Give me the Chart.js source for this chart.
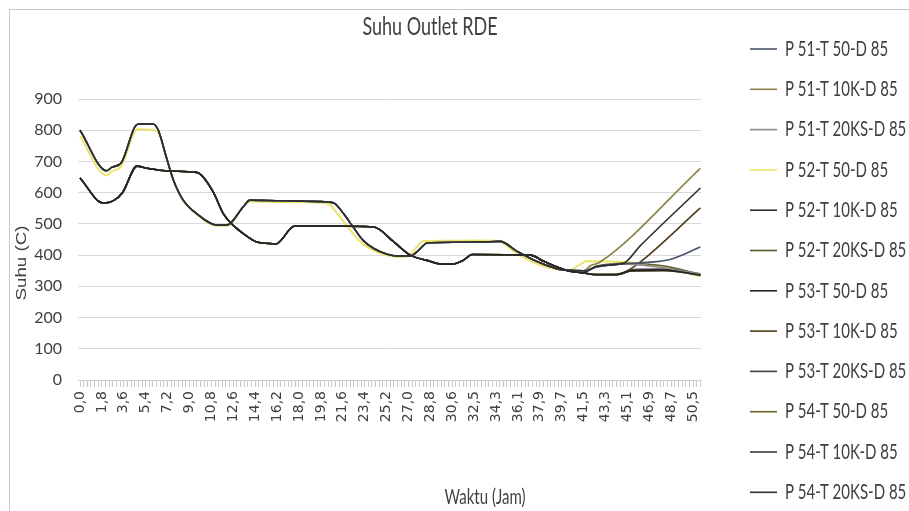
<!DOCTYPE html>
<html>
<head>
<meta charset="utf-8">
<script src="https://cdn.jsdelivr.net/npm/chart.js@4.4.1/dist/chart.umd.min.js"></script>
<style>
  html, body { margin: 0; padding: 0; background: #fff; }
  #wrap { width: 909px; height: 511px; }
</style>
</head>
<body>
<div id="wrap"><canvas id="chart" width="909" height="511"></canvas></div>
<script>
// Series names (legend order)
const seriesNames = [
    'P 51-T 50-D 85', 'P 51-T 10K-D 85', 'P 51-T 20KS-D 85',
    'P 52-T 50-D 85', 'P 52-T 10K-D 85', 'P 52-T 20KS-D 85',
    'P 53-T 50-D 85', 'P 53-T 10K-D 85', 'P 53-T 20KS-D 85',
    'P 54-T 50-D 85', 'P 54-T 10K-D 85', 'P 54-T 20KS-D 85'
];

// X axis tick labels (Jam)
const xTickLabels = ['0,0', '1,8', '3,6', '5,4', '7,2', '9,0', '10,8', '12,6', '14,4', '16,2',
    '18,0', '19,8', '21,6', '23,4', '25,2', '27,0', '28,8', '30,6', '32,5', '34,3',
    '36,1', '37,9', '39,7', '41,5', '43,3', '45,1', '46,9', '48,7', '50,5'];

// Kurva atas (mulai 800 C), dipakai bersama oleh beberapa seri
const upperTimes = [0, 2.2, 2.6, 3.4, 4.5, 4.8, 6.0, 6.45, 7.1, 7.7, 8.5, 9.6, 11.3, 12.1, 13.45, 14.0,
    16.6, 20.45, 21.0, 21.7, 22.5, 23.3, 24.2, 25.3, 26.4, 27.2, 27.9, 28.6, 32.9, 34.6, 36.0, 37.6,
    39.3, 40.4, 41.5];
const upperTemps = [800, 670, 681, 696, 810, 820, 820, 800, 715, 640, 576, 533, 496, 496, 555, 576,
    574, 570, 565, 533, 490, 448, 421, 403, 397, 397, 416, 439, 442, 444, 412, 380,
    356, 351, 350];

// Kurva bawah (mulai 650 C)
const lowerTimes = [0, 1.9, 2.7, 3.5, 4.7, 5.5, 7.4, 9.6, 10.0, 11.0, 11.8, 12.6, 13.45, 14.55, 15.65,
    16.1, 17.7, 20.3, 24.2, 25.8, 27.2, 28.5, 29.8, 30.6, 31.6, 32.3, 37.1, 38.2, 40.1, 41.5, 42.3];
const lowerTemps = [647, 567, 573, 600, 685, 678, 669, 665, 656, 600, 533, 496, 469, 442, 437,
    435, 493, 493, 490, 444, 400, 384, 371, 371, 384, 402, 400, 380, 351, 343, 338];

// P 52-T 50 (kuning) sedikit berbeda dari kurva atas
const yellowTimes = [0, 2.2, 2.6, 3.4, 4.5, 4.8, 6.1, 6.45, 7.1, 7.7, 8.5, 9.6, 11.3, 12.1, 13.45, 14.0,
    16.6, 20.0, 20.6, 21.3, 22.1, 23.0, 24.0, 25.2, 26.3, 27.0, 27.6, 28.3, 32.9, 34.4, 35.8, 37.4,
    39.0, 40.3, 41.2, 41.7, 45.3, 47.8, 51.1];
const yellowTemps = [780, 655, 668, 685, 795, 803, 800, 792, 712, 638, 574, 531, 494, 494, 553, 572,
    570, 568, 560, 528, 488, 446, 418, 400, 394, 396, 420, 445, 447, 446, 410, 375,
    356, 352, 370, 380, 376, 363, 333];

// Ujung kurva (setelah ~41,5 jam), [waktu, suhu]
const tailP51T50 = [[42.6, 362], [44.8, 372], [46.5, 376], [48.6, 386], [51.1, 426]];
const tailP51T10K = [[42.0, 365], [42.8, 377], [51.1, 678]];
const tailP51T20KS = [[42.6, 362], [44.8, 372], [47.6, 362], [51.1, 340]];
const tailP52T10K = [[41.7, 348], [42.6, 365], [44.8, 375], [46.1, 428], [51.1, 615]];
const tailP52T20KS = [[42.6, 365], [44.8, 374], [48.0, 366], [51.1, 338]];
const tailP53T50 = [[44.2, 338], [45.4, 350], [48.0, 352], [51.1, 336]];
const tailP53T10K = [[44.2, 338], [45.0, 348], [45.9, 370], [51.1, 551]];
const tailP53T20KS = [[44.2, 337], [45.6, 354], [48.4, 355], [51.1, 340]];
const tailP54T50 = [[44.0, 338], [45.4, 349], [48.2, 350], [51.1, 335]];
const tailP54T10K = [[44.2, 338], [45.6, 351], [48.5, 351], [51.1, 338]];
const tailP54T20KS = [[44.2, 337], [45.5, 350], [48.3, 352], [51.1, 337]];

// Warna tiap seri
const seriesColors = ['#44546a', '#8f8048', '#8c8c8c', '#ece46a', '#2a2d31', '#5e5b30',
    '#262626', '#4d3b1a', '#3d3d3d', '#6f6424', '#333a40', '#303030'];
// Urutan gambar (kecil = di atas)
const seriesOrder = [1, 1, 1, 5, 0, 1, 0, 1, 1, 1, 1, 1];

function toPoints(times, temps) {
    return times.map((t, i) => ({ x: t, y: temps[i] }));
}
function withTail(times, temps, tail) {
    return toPoints(times, temps).concat(tail.map(p => ({ x: p[0], y: p[1] })));
}

const seriesData = [
    withTail(upperTimes, upperTemps, tailP51T50),
    withTail(upperTimes, upperTemps, tailP51T10K),
    withTail(upperTimes, upperTemps, tailP51T20KS),
    toPoints(yellowTimes, yellowTemps),
    withTail(upperTimes, upperTemps, tailP52T10K),
    withTail(upperTimes, upperTemps, tailP52T20KS),
    withTail(lowerTimes, lowerTemps, tailP53T50),
    withTail(lowerTimes, lowerTemps, tailP53T10K),
    withTail(lowerTimes, lowerTemps, tailP53T20KS),
    withTail(lowerTimes, lowerTemps, tailP54T50),
    withTail(lowerTimes, lowerTemps, tailP54T10K),
    withTail(lowerTimes, lowerTemps, tailP54T20KS)
];

const datasets = seriesNames.map((name, i) => ({
    label: name,
    data: seriesData[i],
    borderColor: seriesColors[i],
    backgroundColor: seriesColors[i],
    borderWidth: i === 3 ? 2 : 1.6,
    pointRadius: 0,
    cubicInterpolationMode: 'monotone',
    order: seriesOrder[i]
}));

// Tulisan yang sedikit "ditarik" secara vertikal seperti gambar aslinya
function stretchedText(ctx, text, x, y, font, sx, sy, color, rotate) {
    ctx.save();
    ctx.translate(x, y);
    if (rotate) ctx.rotate(rotate);
    ctx.scale(sx, sy);
    ctx.font = font;
    ctx.fillStyle = color;
    ctx.textAlign = 'center';
    ctx.textBaseline = 'middle';
    ctx.fillText(text, 0, 0);
    ctx.restore();
}

const decorPlugin = {
    id: 'decor',
    afterDraw(chart) {
        const ctx = chart.ctx;
        // bingkai grafik
        ctx.save();
        ctx.strokeStyle = '#c9c9c9';
        ctx.lineWidth = 1;
        ctx.beginPath();
        ctx.moveTo(9.5, 511);
        ctx.lineTo(9.5, 9.5);
        ctx.lineTo(909, 9.5);
        ctx.stroke();
        ctx.restore();

        stretchedText(ctx, 'Suhu Outlet RDE', 430, 27, '18px Lato', 1, 1.35, '#404040');
        stretchedText(ctx, 'Waktu (Jam)', 485, 497, '15px Lato', 1, 1.4, '#404040');
        stretchedText(ctx, 'Suhu (C)', 22, 263, '15px "Liberation Sans"', 1.25, 1, '#404040', -Math.PI / 2);

        // legenda
        chart.data.datasets.forEach((ds, i) => {
            const y = 49 + i * 40.3;
            ctx.save();
            ctx.strokeStyle = ds.borderColor;
            ctx.lineWidth = 1.6;
            ctx.beginPath();
            ctx.moveTo(750, y);
            ctx.lineTo(777, y);
            ctx.stroke();
            ctx.translate(785, y);
            ctx.scale(1, 1.4);
            ctx.font = '15px Lato';
            ctx.fillStyle = '#404040';
            ctx.textAlign = 'left';
            ctx.textBaseline = 'middle';
            ctx.fillText(ds.label, 0, 0);
            ctx.restore();
        });
    }
};

new Chart(document.getElementById('chart'), {
    type: 'line',
    data: { datasets },
    options: {
        responsive: false,
        animation: false,
        layout: { padding: { top: 99, right: 208, left: 0, bottom: 0 } },
        plugins: {
            legend: { display: false },
            title: { display: false },
            tooltip: { enabled: false }
        },
        scales: {
            x: {
                type: 'linear',
                min: -0.165,
                max: 51.15,
                afterBuildTicks(scale) {
                    const labelStep = 50.5 / (xTickLabels.length - 1);
                    const ticks = [];
                    for (let i = 0; i * labelStep / 6 <= 51.15; i++) {
                        ticks.push({ value: i * labelStep / 6 });
                    }
                    scale.ticks = ticks;
                },
                afterFit(scale) { scale.height = 131; },
                ticks: {
                    autoSkip: false,
                    minRotation: 90,
                    maxRotation: 90,
                    padding: 4,
                    color: '#404040',
                    font: { family: 'DejaVu Sans', size: 14 },
                    callback: (value, index) => index % 6 === 0 ? (xTickLabels[index / 6] || '') : ''
                },
                grid: {
                    drawOnChartArea: false,
                    drawTicks: true,
                    tickLength: 7,
                    color: '#c8c8c8'
                },
                border: { display: true, color: '#d0d0d0' }
            },
            y: {
                min: 0,
                max: 900,
                afterFit(scale) { scale.width = 78; },
                ticks: {
                    stepSize: 100,
                    padding: 16,
                    color: '#404040',
                    font: { family: 'Lato', size: 16 }
                },
                grid: { color: '#d9d9d9', drawTicks: false },
                border: { display: false }
            }
        }
    },
    plugins: [decorPlugin]
});
</script>
</body>
</html>
